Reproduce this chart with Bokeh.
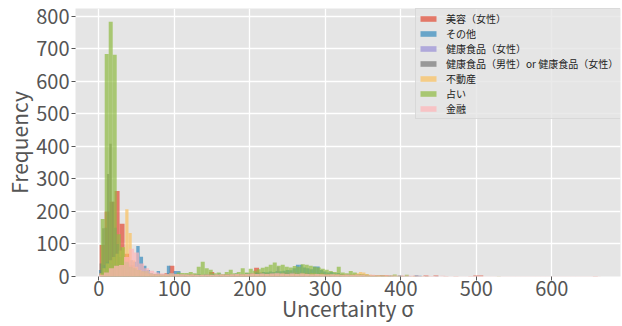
import numpy as np
from bokeh.plotting import figure
from bokeh.models import Legend, LegendItem, FixedTicker, Range1d
from bokeh.embed import file_html
from bokeh.resources import INLINE

labels = ["美容（女性）", "その他", "健康食品（女性）", "健康食品（男性）or 健康食品（女性）", "不動産", "占い", "金融"]
colors = ["#E24A33", "#348ABD", "#988ED5", "#777777", "#FBC15E", "#8EBA42", "#FFB5B8"]

# value range (min, max) of each series; 100 bins each
red_range = (1.0, 661.0)
blue_range = (0.0, 450.0)
purple_range = (1.0, 351.0)
gray_range = (1.0, 321.0)
orange_range = (0.5, 430.5)
green_range = (2.4, 532.4)
pink_range = (0.0, 665.0)

red_counts = [97, 200, 230, 263, 162, 70, 35, 20, 12, 8,
              6, 8, 5, 10, 33, 8, 5, 4, 6, 5,
              4, 6, 14, 5, 4, 6, 5, 8, 6, 7,
              10, 27, 12, 9, 11, 8, 10, 12, 9, 10,
              8, 11, 9, 7, 10, 8, 6, 5, 7, 6,
              5, 4, 6, 5, 3, 4, 4, 4, 2, 1,
              2, 1, 1, 2, 1, 3, 1, 3, 0, 1,
              0, 1, 0, 0, 1, 3, 3, 0, 0, 0,
              0, 0, 0, 0, 0, 0, 0, 0, 0, 0,
              0, 0, 0, 0, 0, 0, 0, 0, 0, 1]
blue_counts = [20, 35, 45, 40, 35, 35, 30, 30, 40, 50,
               45, 94, 61, 33, 20, 10, 8, 17, 6, 5,
               33, 10, 17, 17, 6, 5, 7, 4, 6, 8,
               5, 7, 6, 8, 5, 9, 6, 7, 8, 6,
               9, 7, 8, 10, 9, 8, 12, 11, 14, 13,
               15, 14, 17, 16, 18, 20, 19, 25, 36, 36,
               28, 25, 22, 31, 31, 20, 15, 12, 14, 10,
               11, 8, 6, 7, 5, 6, 4, 5, 3, 2,
               3, 2, 1, 2, 1, 2, 1, 1, 3, 1,
               1, 1, 0, 3, 2, 0, 1, 0, 0, 1]
purple_counts = [10, 25, 35, 40, 38, 30, 25, 20, 18, 22,
                 20, 25, 22, 18, 15, 12, 10, 8, 6, 5,
                 4, 5, 3, 4, 6, 3, 4, 2, 3, 4,
                 3, 2, 4, 3, 2, 3, 4, 3, 2, 3,
                 3, 4, 3, 2, 4, 3, 3, 4, 5, 4,
                 4, 5, 4, 6, 5, 6, 7, 6, 8, 7,
                 8, 9, 8, 10, 9, 12, 11, 30, 10, 12,
                 12, 14, 13, 15, 14, 12, 13, 11, 12, 10,
                 9, 8, 7, 6, 5, 4, 3, 3, 2, 2,
                 1, 1, 1, 0, 1, 0, 0, 1, 0, 1]
gray_counts = [40, 148, 150, 315, 408, 230, 150, 100, 60, 35,
               20, 15, 12, 10, 8, 6, 5, 4, 4, 3,
               3, 2, 3, 2, 2, 3, 1, 2, 2, 1,
               2, 1, 2, 1, 1, 2, 1, 1, 2, 1,
               1, 2, 1, 1, 2, 1, 2, 1, 1, 2,
               2, 1, 2, 2, 3, 2, 3, 2, 3, 3,
               3, 4, 3, 4, 3, 4, 5, 4, 3, 4,
               4, 3, 4, 5, 4, 3, 4, 3, 3, 2,
               3, 2, 2, 3, 2, 1, 2, 1, 1, 1,
               1, 1, 0, 1, 0, 1, 0, 0, 0, 1]
orange_counts = [10, 25, 40, 50, 60, 70, 80, 90, 207, 134,
                 50, 30, 20, 14, 10, 8, 6, 5, 6, 4,
                 5, 4, 3, 4, 5, 3, 4, 5, 3, 4,
                 4, 5, 3, 4, 5, 4, 3, 5, 4, 6,
                 5, 4, 6, 5, 7, 6, 5, 8, 6, 7,
                 6, 8, 7, 6, 8, 7, 9, 8, 7, 8,
                 9, 8, 10, 9, 8, 10, 9, 8, 9, 7,
                 8, 6, 7, 8, 6, 7, 5, 6, 8, 10,
                 14, 12, 8, 5, 4, 3, 2, 3, 2, 1,
                 1, 1, 0, 1, 0, 0, 1, 0, 0, 1]
green_counts = [177, 684, 783, 682, 130, 90, 45, 30, 25, 20,
                17, 17, 10, 8, 8, 6, 7, 10, 8, 12,
                11, 11, 14, 10, 30, 45, 25, 21, 10, 12,
                8, 14, 21, 10, 14, 25, 12, 24, 18, 22,
                27, 30, 36, 43, 33, 36, 30, 28, 32, 30,
                38, 36, 33, 30, 28, 24, 21, 17, 14, 30,
                12, 10, 17, 12, 8, 6, 5, 4, 3, 4,
                3, 2, 3, 6, 2, 1, 5, 0, 1, 0,
                0, 1, 0, 0, 0, 0, 0, 0, 0, 0,
                0, 0, 0, 0, 0, 0, 0, 0, 0, 1]
pink_counts = [5, 12, 25, 33, 35, 60, 85, 74, 40, 25,
               18, 12, 10, 8, 10, 8, 7, 6, 6, 5,
               5, 6, 5, 6, 7, 6, 7, 8, 7, 8,
               9, 8, 9, 8, 9, 10, 9, 8, 9, 8,
               9, 8, 7, 8, 7, 6, 7, 6, 5, 6,
               5, 6, 5, 4, 5, 4, 3, 4, 3, 3,
               2, 3, 2, 2, 1, 2, 1, 1, 2, 1,
               1, 1, 1, 1, 1, 1, 1, 1, 1, 1,
               1, 1, 1, 1, 1, 1, 1, 1, 1, 1,
               1, 1, 1, 1, 1, 1, 1, 1, 1, 1]

x_ticks = [0, 100, 200, 300, 400, 500, 600]
y_ticks = [0, 100, 200, 300, 400, 500, 600, 700, 800]

series = [
    (red_range, red_counts),
    (blue_range, blue_counts),
    (purple_range, purple_counts),
    (gray_range, gray_counts),
    (orange_range, orange_counts),
    (green_range, green_counts),
    (pink_range, pink_counts),
]

FONT = "Noto Sans CJK JP"

p = figure(width=622, height=326, output_backend="svg", toolbar_location=None,
           x_range=Range1d(-31, 691), y_range=Range1d(0, 824),
           min_border_left=75, min_border_right=2, min_border_top=8, min_border_bottom=50)
p.background_fill_color = "#E5E5E5"
p.border_fill_color = "white"
p.outline_line_color = None

p.xgrid.grid_line_color = "white"
p.ygrid.grid_line_color = "white"
p.xgrid.grid_line_width = 1.3
p.ygrid.grid_line_width = 1.3

items = []
for (rng, counts), lab, col in zip(series, labels, colors):
    edges = np.linspace(rng[0], rng[1], len(counts) + 1)
    r = p.quad(left=edges[:-1], right=edges[1:], bottom=0, top=counts,
               fill_color=col, fill_alpha=0.7, line_color=None)
    items.append(LegendItem(label=lab, renderers=[r]))

for ax in (p.xaxis, p.yaxis):
    ax.axis_line_color = None
    ax.major_tick_line_color = "#555555"
    ax.major_tick_out = 4
    ax.major_tick_in = 0
    ax.minor_tick_line_color = None
    ax.major_label_text_color = "#555555"
    ax.major_label_text_font = FONT
    ax.major_label_text_font_size = "20px"
    ax.axis_label_text_font = FONT
    ax.axis_label_text_font_size = "21px"
    ax.axis_label_text_color = "#555555"
    ax.axis_label_text_font_style = "normal"

p.xaxis.major_label_standoff = 0
p.yaxis.major_label_standoff = 2
p.xaxis.ticker = FixedTicker(ticks=x_ticks)
p.yaxis.ticker = FixedTicker(ticks=y_ticks)
p.xaxis.axis_label = "Uncertainty σ"
p.yaxis.axis_label = "Frequency"
p.xaxis.axis_label_standoff = -6
p.yaxis.axis_label_standoff = -1

legend = Legend(items=items, location=(340, 157))
legend.label_text_font = FONT
legend.label_text_font_size = "10px"
legend.label_text_color = "#222222"
legend.glyph_width = 20
legend.glyph_height = 7
legend.label_height = 8
legend.spacing = 0
legend.padding = 2
legend.margin = 0
legend.label_standoff = 8
legend.background_fill_color = "#E5E5E5"
legend.background_fill_alpha = 0.8
legend.border_line_color = "#CCCCCC"
legend.border_line_width = 1
p.add_layout(legend)

open("out.html", "w").write(file_html(p, INLINE))
